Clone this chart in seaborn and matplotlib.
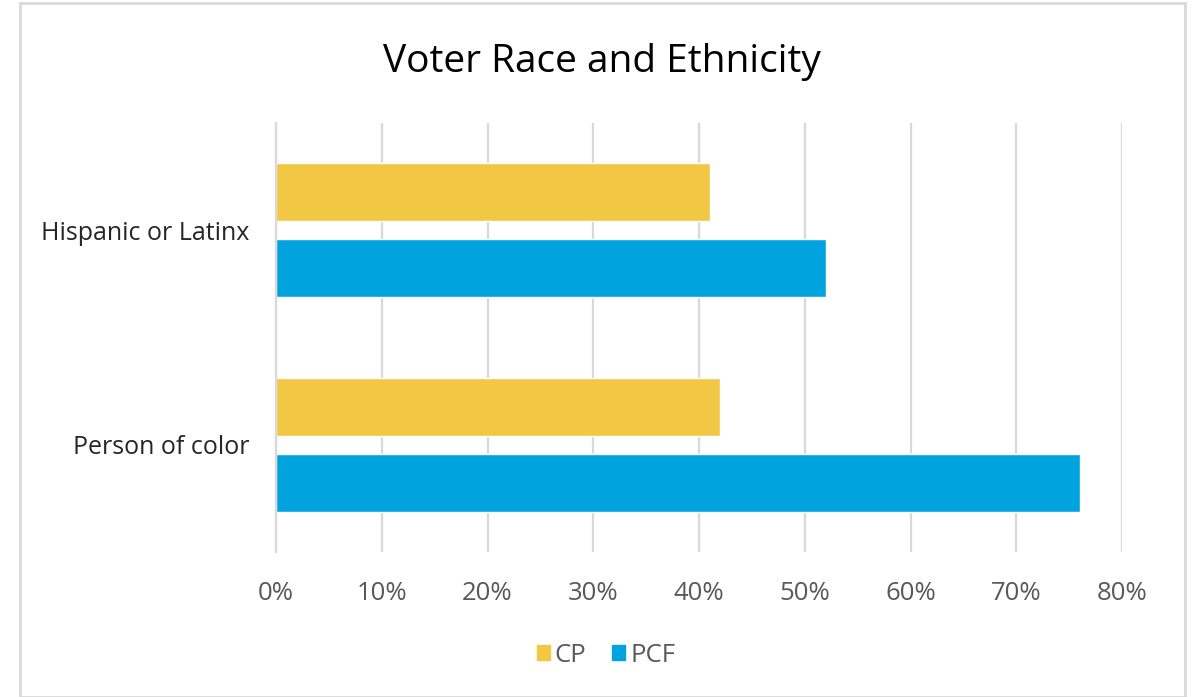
import matplotlib
matplotlib.use("Agg")
import matplotlib.pyplot as plt
import matplotlib.patches as mpatches
import seaborn as sns
import pandas as pd
from matplotlib.ticker import PercentFormatter, MultipleLocator

categories = ["Hispanic or Latinx", "Person of color"]
series = ["CP", "PCF"]
cp_values = [0.41, 0.42]
pcf_values = [0.52, 0.76]
colors = {"CP": "#F2C744", "PCF": "#00A3DD"}

df = pd.DataFrame({
    "category": categories * 2,
    "series": ["CP"] * len(categories) + ["PCF"] * len(categories),
    "value": cp_values + pcf_values,
})

sns.set_theme(style="white")
plt.rcParams["font.family"] = ["Open Sans", "DejaVu Sans"]

fig = plt.figure(figsize=(11.92, 6.97), dpi=100)
ax = fig.add_axes([276 / 1192, 1 - 552 / 697, (1122 - 276) / 1192, (552 - 123) / 697])

sns.barplot(data=df, y="category", x="value", hue="series", order=categories,
            hue_order=series, palette=colors, orient="h", width=0.709, gap=0.232,
            saturation=1, ax=ax, legend=False)

ax.set_xlim(0, 0.8)
ax.set_ylim(1.5, -0.5)
ax.xaxis.set_major_locator(MultipleLocator(0.1))
ax.xaxis.set_major_formatter(PercentFormatter(1.0, decimals=0))
ax.grid(axis="x", color="#D9D9D9", linewidth=1.6)
ax.set_axisbelow(True)
for s in ["top", "right", "bottom"]:
    ax.spines[s].set_visible(False)
ax.spines["left"].set_color("#D9D9D9")
ax.spines["left"].set_linewidth(1.6)
ax.set_xlabel("")
ax.set_ylabel("")
ax.tick_params(axis="x", length=0, pad=21, labelsize=18.5, labelcolor="#595959")
ax.tick_params(axis="y", length=0, pad=19, labelsize=18, labelcolor="#262626")

fig.text(602 / 1192, 1 - 62 / 697, "Voter Race and Ethnicity", ha="center", va="center",
         fontsize=28, color="#000000")

handles = [mpatches.Patch(color=colors[s], label=s) for s in series]
fig.legend(handles=handles, loc="center", bbox_to_anchor=(606 / 1192, 1 - 655 / 697),
           ncol=2, frameon=False, fontsize=18.5, labelcolor="#595959",
           handlelength=0.5, handleheight=0.55, handletextpad=0.2, columnspacing=1.0)

border = mpatches.Rectangle((20 / 1192, 0.0), (1185 - 20) / 1192, 1 - 3 / 697,
                            transform=fig.transFigure, fill=False,
                            edgecolor="#D9D9D9", linewidth=2)
fig.patches.append(border)

fig.savefig("out.png", dpi=100)
